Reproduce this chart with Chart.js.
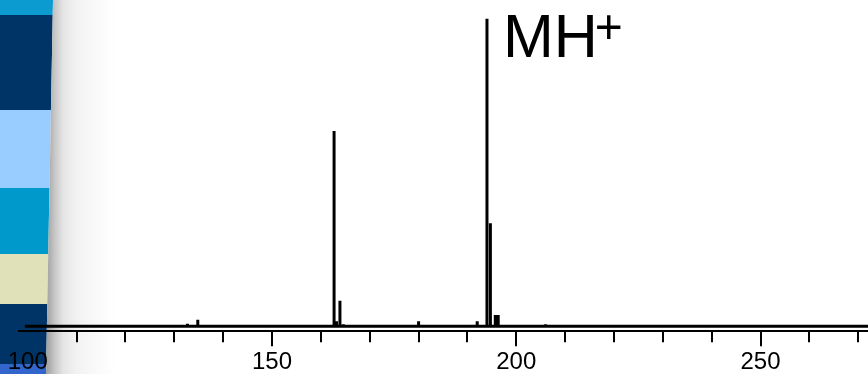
<!DOCTYPE html>
<html>
<head>
<meta charset="utf-8">
<script src="https://cdn.jsdelivr.net/npm/chart.js@4"></script>
<style>
  html, body { margin: 0; padding: 0; background: #fff; overflow: hidden; }
  #wrap { position: relative; width: 868px; height: 374px; overflow: hidden; }
  #strip {
    position: absolute; left: 0; top: 0; width: 56px; height: 374px;
    clip-path: polygon(0 0, 53px 0, 46px 374px, 0 374px);
    background: linear-gradient(to bottom,
      #0c9bd0 0 15px, #003466 15px 110px, #99ccff 110px 188px,
      #0099cc 188px 254px, #e0e1b9 254px 304px, #003466 304px 364px, #3366cc 364px);
  }
  #shade {
    position: absolute; left: 0; top: 0; width: 120px; height: 374px;
    clip-path: polygon(53px 0, 120px 0, 120px 374px, 46px 374px);
    background: linear-gradient(to right, #a2a2a2 47px, #c8c8c8 55px, #e4e4e4 63px,
      #f1f1f1 75px, #f8f8f8 92px, #ffffff 115px);
  }
  #box { position: absolute; left: 0; top: 0; width: 868px; height: 377px; }
</style>
</head>
<body>
<div id="wrap">
  <div id="strip"></div>
  <div id="shade"></div>
  <div id="box"><canvas id="chart"></canvas></div>
</div>
<script>
// m/z of each peak and its relative intensity (%)
const mzValues    = [132.7, 134.8, 162.7, 163.2, 163.9, 164.6, 180.0, 192.0, 194.0, 194.7, 195.7, 196.3, 206.0];
const intensities = [0.8,   2.1,   63.5,  1.6,   8.3,   0.7,   1.6,   1.6,   100,   33.5,  3.7,   3.7,   0.7];
const baselineRange = [99.4, 272];
const tickValues  = [100, 110, 120, 130, 140, 150, 160, 170, 180, 190, 200, 210, 220, 230, 240, 250, 260, 270];
const majorTicks  = [100, 150, 200, 250];
const unmarkedTicks = [100];
const peakLabel   = { mz: 194, text: 'MH', sup: '+' };

// stick spectrum: baseline with a vertical line at each peak
const points = [{ x: baselineRange[0], y: 0 }];
mzValues.forEach((mz, i) => {
    points.push({ x: mz, y: 0 }, { x: mz, y: intensities[i] }, { x: mz, y: 0 });
});
points.push({ x: baselineRange[1], y: 0 });

const labelFont = "'Liberation Sans Narrow', 'Liberation Sans', Arial, sans-serif";

const tickMarks = {
    id: 'tickMarks',
    afterDraw(chart) {
        const ctx = chart.ctx;
        const xs = chart.scales.x;
        const y0 = chart.chartArea.bottom;
        ctx.save();
        ctx.strokeStyle = '#000';
        ctx.lineWidth = 2;
        ctx.beginPath();
        xs.ticks.forEach(t => {
            if (unmarkedTicks.includes(t.value)) return;
            const px = Math.round(xs.getPixelForValue(t.value));
            const len = majorTicks.includes(t.value) ? 15 : 11;
            ctx.moveTo(px, y0);
            ctx.lineTo(px, y0 + len);
        });
        ctx.stroke();
        ctx.restore();
    }
};

const mhLabel = {
    id: 'mhLabel',
    afterDatasetsDraw(chart) {
        const ctx = chart.ctx;
        const px = chart.scales.x.getPixelForValue(peakLabel.mz);
        const py = chart.scales.y.getPixelForValue(100);
        ctx.save();
        ctx.fillStyle = '#000';
        ctx.textBaseline = 'alphabetic';
        ctx.font = "61px 'Liberation Sans', Arial, sans-serif";
        const x0 = px + 16;
        ctx.fillText(peakLabel.text, x0, py + 38);
        const w = ctx.measureText(peakLabel.text).width;
        ctx.font = "48px 'Liberation Sans', Arial, sans-serif";
        ctx.fillText(peakLabel.sup, x0 + w - 3, py + 24);
        ctx.restore();
    }
};

new Chart(document.getElementById('chart'), {
    type: 'line',
    data: {
        datasets: [{
            data: points,
            borderColor: '#000',
            borderWidth: 3,
            pointRadius: 0,
            tension: 0,
            borderJoinStyle: 'miter'
        }]
    },
    options: {
        responsive: true,
        maintainAspectRatio: false,
        animation: false,
        layout: { padding: { left: 19, right: 0, top: 0, bottom: 0 } },
        plugins: { legend: { display: false }, tooltip: { enabled: false } },
        scales: {
            x: {
                type: 'linear',
                min: 98.2,
                max: 272,
                afterBuildTicks: axis => { axis.ticks = tickValues.map(v => ({ value: v })); },
                grid: { drawOnChartArea: false, drawTicks: true, tickLength: 17, tickColor: 'rgba(0,0,0,0)' },
                border: { display: true, color: '#000', width: 2 },
                ticks: {
                    autoSkip: false,
                    maxRotation: 0,
                    padding: 0,
                    color: '#000',
                    font: { family: labelFont, size: 24, lineHeight: 1.2 },
                    callback: v => majorTicks.includes(v) ? String(v) : ''
                }
            },
            y: { display: false, min: -1.6, max: 106.1 }
        }
    },
    plugins: [tickMarks, mhLabel]
});
</script>
</body>
</html>
